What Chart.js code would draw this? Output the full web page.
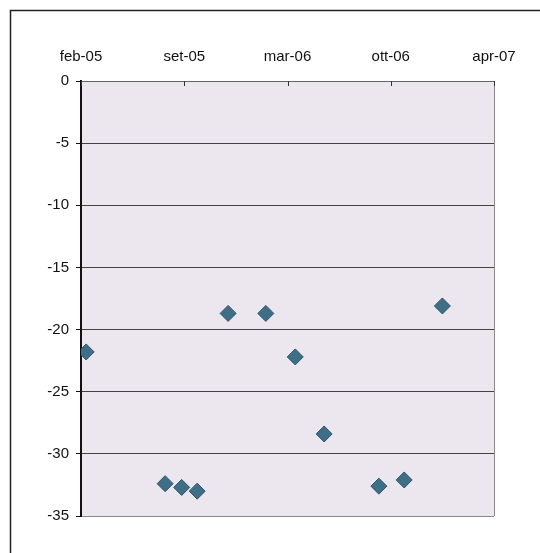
<!DOCTYPE html>
<html>
<head>
<meta charset="utf-8">
<script src="https://cdn.jsdelivr.net/npm/chart.js@4"></script>
<style>
  body { margin: 0; background: #fff; }
</style>
</head>
<body>
<canvas id="chart" width="540" height="553"></canvas>
<script>
// data
const dates = ['2005-02-27', '2005-07-30', '2005-08-31', '2005-09-30', '2005-11-29', '2006-02-10',
  '2006-04-08', '2006-06-03', '2006-09-17', '2006-11-05', '2007-01-18'];
const values = [-21.8, -32.4, -32.7, -33.0, -18.7, -18.7, -22.2, -28.4, -32.6, -32.1, -18.1];
const monthNames = ['gen', 'feb', 'mar', 'apr', 'mag', 'giu', 'lug', 'ago', 'set', 'ott', 'nov', 'dic'];
const xRange = [38400, 39200, 200]; // spreadsheet day serials: min, max, step
const yRange = [-35, 0, 5];

const DAY = 86400000;
const EPOCH = Date.UTC(1899, 11, 30);

function toSerial(s) {
  const p = s.split('-').map(Number);
  return (Date.UTC(p[0], p[1] - 1, p[2]) - EPOCH) / DAY;
}
function serialLabel(v) {
  const d = new Date(EPOCH + v * DAY);
  return monthNames[d.getUTCMonth()] + '-' + String(d.getUTCFullYear()).slice(2);
}

const points = dates.map((d, i) => ({ x: toSerial(d), y: values[i] }));

const plotDeco = {
  id: 'plotDeco',
  beforeDraw(chart) {
    const { ctx, chartArea: a } = chart;
    ctx.save();
    ctx.fillStyle = '#ece6ee';
    ctx.fillRect(a.left, a.top, a.right - a.left, a.bottom - a.top);
    // outer frame
    ctx.strokeStyle = '#222';
    ctx.lineWidth = 1.5;
    ctx.strokeRect(10.5, 10.5, 600, 600);
    ctx.restore();
  },
  afterDatasetsDraw(chart) {
    const { ctx, chartArea: a } = chart;
    const xs = chart.scales.x;
    ctx.save();
    ctx.strokeStyle = '#333';
    ctx.lineWidth = 1;
    xs.ticks.forEach(t => {
      const px = Math.round(xs.getPixelForValue(t.value)) + 0.5;
      ctx.beginPath();
      ctx.moveTo(px, a.top);
      ctx.lineTo(px, a.top + 5);
      ctx.stroke();
    });
    ctx.restore();
  }
};

const labelFont = { family: "'Liberation Sans', Arial, sans-serif", size: 15 };

new Chart(document.getElementById('chart').getContext('2d'), {
  type: 'scatter',
  data: {
    datasets: [{
      data: points,
      pointStyle: 'rectRot',
      pointRadius: 8,
      pointHoverRadius: 8,
      backgroundColor: '#3f6f86',
      borderColor: '#2d566b',
      borderWidth: 1
    }]
  },
  options: {
    responsive: false,
    animation: false,
    layout: { padding: { left: 0, top: 0, right: 46, bottom: 37 } },
    plugins: { legend: { display: false }, tooltip: { enabled: false } },
    scales: {
      x: {
        type: 'linear',
        position: 'top',
        min: xRange[0],
        max: xRange[1],
        afterFit(s) { s.height = 81; },
        ticks: {
          stepSize: xRange[2],
          padding: 15,
          color: '#111',
          font: labelFont,
          maxRotation: 0,
          callback: v => serialLabel(v)
        },
        grid: {
          drawTicks: false,
          color: c => (c.tick && c.tick.value === xRange[1]) ? '#8a8a8a' : 'rgba(0,0,0,0)'
        },
        border: { color: '#666', width: 1 }
      },
      y: {
        min: yRange[0],
        max: yRange[1],
        afterFit(s) { s.width = 81; },
        ticks: {
          stepSize: yRange[2],
          padding: 7,
          color: '#111',
          font: labelFont
        },
        grid: {
          tickLength: 5,
          tickColor: '#111',
          color: c => (c.tick && c.tick.value === yRange[0]) ? '#8a8a8a' : '#444'
        },
        border: { color: '#111', width: 2 }
      }
    }
  },
  plugins: [plotDeco]
});
</script>
</body>
</html>
